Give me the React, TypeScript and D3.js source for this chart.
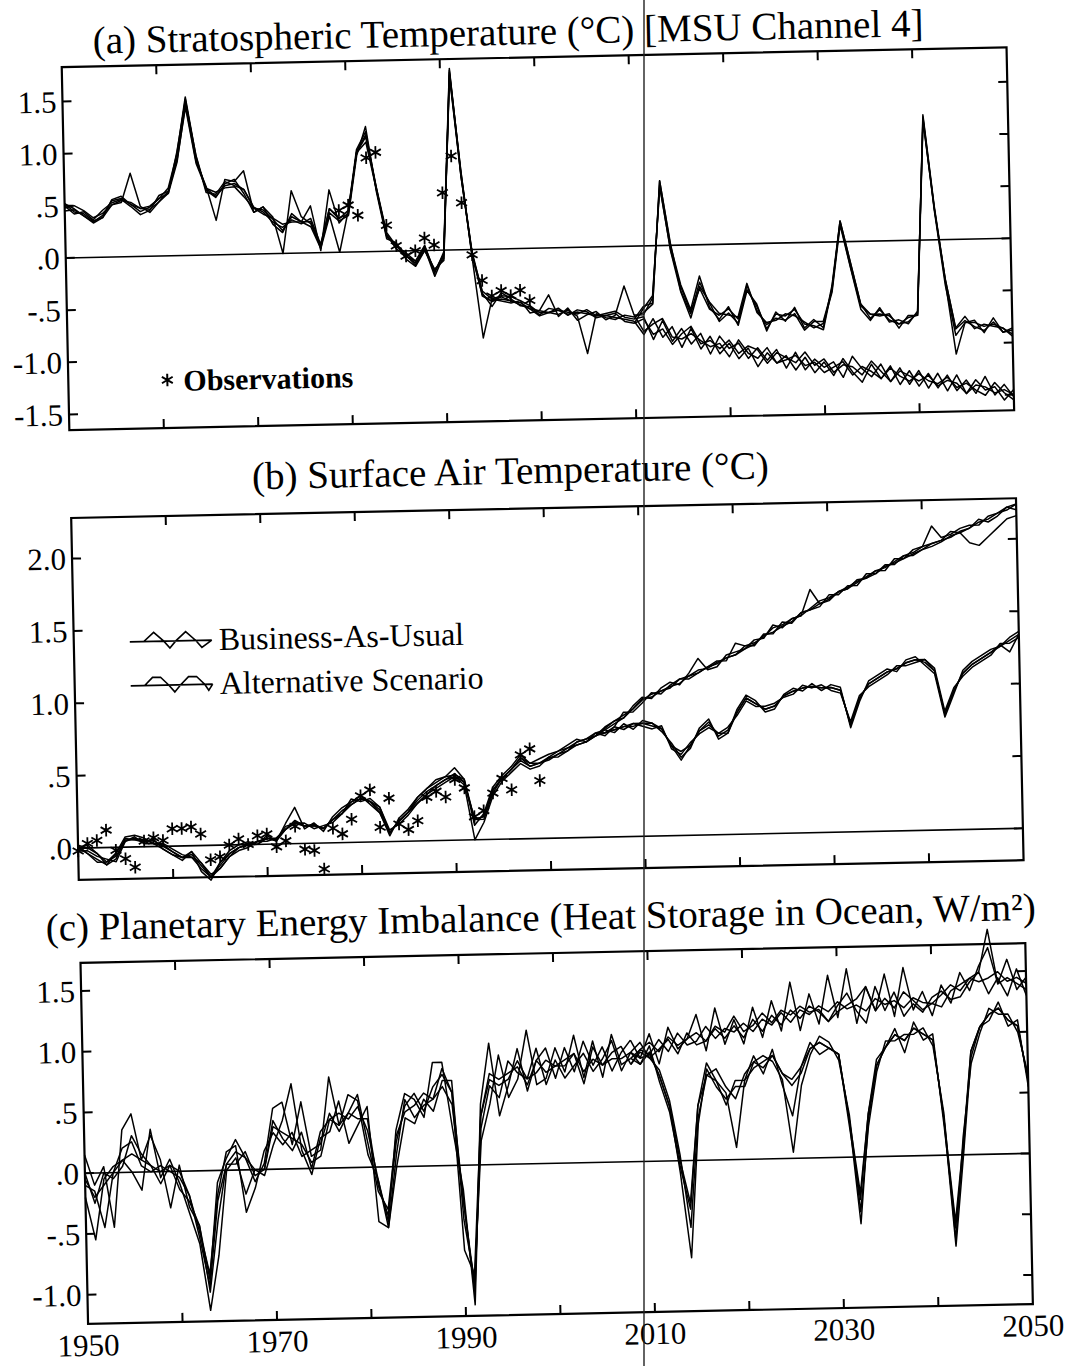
import React from 'react';
import * as d3 from 'd3';

const W = 1067;
const H = 1366;
const FONT = '"Liberation Serif", "Times New Roman", serif';

// ---------- (a) stratospheric temperature, model runs 1950-2010
const stratHistStart = 1950;
const stratHist1 = [0.52,0.47,0.40,0.33,0.38,0.55,0.58,0.50,0.43,0.47,
  0.55,0.65,0.98,1.52,0.95,0.60,0.58,0.70,0.66,0.62,
  0.45,0.40,0.30,0.25,0.32,0.28,0.33,0.08,0.42,0.32,
  0.40,0.98,1.15,0.62,0.18,0.05,-0.02,-0.10,0.05,-0.22,
  -0.02,1.74,0.70,-0.02,-0.42,-0.55,-0.42,-0.48,-0.55,-0.56,
  -0.64,-0.58,-0.60,-0.62,-0.64,-0.60,-0.66,-0.64,-0.62,-0.68,-0.70];
const stratHist2 = [0.48,0.50,0.45,0.38,0.42,0.50,0.52,0.80,0.48,0.42,
  0.52,0.60,0.90,1.45,0.90,0.66,0.33,0.72,0.70,0.80,
  0.40,0.45,0.35,0.00,0.60,0.35,0.28,0.05,0.38,0.30,
  0.35,0.92,1.20,0.58,0.12,0.08,-0.08,-0.15,0.00,-0.18,
  -0.10,1.70,0.75,-0.08,-0.85,-0.48,-0.50,-0.52,-0.50,-0.62,
  -0.60,-0.45,-0.66,-0.58,-0.70,-0.65,-0.62,-0.70,-0.66,-0.38,-0.66];
const stratHist3 = [0.50,0.42,0.44,0.36,0.45,0.52,0.55,0.48,0.40,0.44,
  0.58,0.62,0.92,1.42,0.88,0.64,0.60,0.64,0.65,0.55,
  0.44,0.38,0.34,0.28,0.30,0.30,0.45,0.02,0.60,0.28,
  0.38,0.95,1.05,0.60,0.16,0.02,-0.05,-0.10,0.02,-0.25,
  -0.05,1.66,0.70,-0.05,-0.40,-0.48,-0.45,-0.46,-0.50,-0.55,
  -0.62,-0.62,-0.58,-0.65,-0.60,-0.62,-0.68,-0.66,-0.64,-0.72,-0.74];
const stratHist4 = [0.45,0.46,0.40,0.34,0.40,0.54,0.56,0.50,0.46,0.48,
  0.55,0.60,1.00,1.48,0.96,0.62,0.55,0.68,0.72,0.58,
  0.40,0.45,0.28,0.20,0.38,0.30,0.25,0.04,0.35,0.00,
  0.40,0.95,1.10,0.62,0.15,0.05,-0.05,-0.12,0.00,-0.20,
  -0.08,1.72,0.74,-0.04,-0.45,-0.50,-0.48,-0.50,-0.52,-0.58,
  -0.65,-0.62,-0.64,-0.60,-0.66,-1.02,-0.64,-0.68,-0.70,-0.66,-0.68];
const stratHist5 = [0.52,0.44,0.42,0.35,0.38,0.50,0.54,0.52,0.46,0.45,
  0.52,0.62,0.94,1.50,0.92,0.64,0.56,0.66,0.68,0.62,
  0.44,0.42,0.33,0.22,0.35,0.30,0.30,0.06,0.42,0.33,
  0.36,0.96,1.12,0.60,0.14,0.06,-0.04,-0.14,0.04,-0.20,
  -0.04,1.68,0.72,-0.06,-0.44,-0.50,-0.46,-0.50,-0.54,-0.58,
  -0.60,-0.62,-0.60,-0.64,-0.62,-0.64,-0.66,-0.66,-0.68,-0.70,-0.72];

// (a) runs 2010-2050, with volcanoes (upper) and without (lower)
const stratFutStart = 2010;
const stratVolc1 = [-0.70,-0.58,-0.55,0.62,0.00,-0.38,-0.62,-0.30,-0.60,-0.72,
  -0.60,-0.78,-0.45,-0.58,-0.84,-0.66,-0.75,-0.62,-0.82,-0.74,
  -0.82,-0.42,0.20,-0.20,-0.60,-0.70,-0.72,-0.70,-0.84,-0.72,
  -0.72,1.20,0.32,-0.38,-0.85,-0.74,-0.86,-0.82,-0.84,-0.86,-0.92];
const stratVolc2 = [-0.66,-0.66,-0.50,0.58,-0.05,-0.45,-0.70,-0.40,-0.55,-0.66,
  -0.68,-0.70,-0.38,-0.66,-0.76,-0.74,-0.68,-0.70,-0.76,-0.82,
  -0.78,-0.48,0.16,-0.25,-0.65,-0.76,-0.64,-0.78,-0.76,-0.80,
  -0.68,1.16,0.28,-0.44,-0.92,-0.80,-0.78,-0.90,-0.76,-0.90,-0.86];
const stratVolc3 = [-0.74,-0.60,-0.48,0.56,-0.04,-0.40,-0.64,-0.42,-0.62,-0.68,
  -0.62,-0.72,-0.44,-0.60,-0.82,-0.68,-0.70,-0.64,-0.78,-0.80,
  -0.84,-0.44,0.18,-0.24,-0.62,-0.70,-0.70,-0.72,-0.80,-0.78,
  -0.70,1.18,0.30,-0.40,-1.10,-0.80,-0.80,-0.84,-0.82,-0.86,-0.94];
const stratVolc4 = [-0.68,-0.64,-0.56,0.62,0.02,-0.44,-0.66,-0.36,-0.56,-0.74,
  -0.66,-0.76,-0.40,-0.64,-0.78,-0.72,-0.74,-0.68,-0.84,-0.76,
  -0.76,-0.46,0.20,-0.20,-0.60,-0.74,-0.66,-0.76,-0.80,-0.74,
  -0.72,1.14,0.30,-0.38,-0.86,-0.78,-0.84,-0.88,-0.80,-0.90,-0.88];
const stratCalm1 = [-0.72,-0.85,-0.70,-0.88,-0.78,-0.98,-0.80,-1.00,-0.88,-1.05,
  -0.95,-1.10,-1.00,-1.18,-1.05,-1.15,-1.08,-1.22,-1.10,-1.25,
  -1.15,-1.28,-1.12,-1.25,-1.35,-1.18,-1.32,-1.20,-1.38,-1.25,
  -1.40,-1.28,-1.42,-1.30,-1.45,-1.35,-1.48,-1.32,-1.50,-1.40,-1.52];
const stratCalm2 = [-0.70,-0.68,-0.90,-0.72,-0.92,-0.80,-0.95,-0.85,-1.05,-0.88,
  -1.00,-0.95,-1.10,-1.00,-1.12,-1.02,-1.20,-1.05,-1.22,-1.12,
  -1.20,-1.15,-1.30,-1.10,-1.22,-1.30,-1.18,-1.35,-1.22,-1.38,
  -1.25,-1.42,-1.28,-1.45,-1.30,-1.48,-1.35,-1.45,-1.42,-1.55,-1.45];
const stratCalm3 = [-0.66,-0.82,-0.75,-0.70,-0.88,-0.90,-0.85,-0.92,-0.98,-0.95,
  -1.08,-0.92,-1.05,-1.10,-1.00,-1.15,-1.12,-1.08,-1.18,-1.15,
  -1.25,-1.20,-1.15,-1.28,-1.20,-1.25,-1.32,-1.22,-1.30,-1.35,
  -1.28,-1.35,-1.38,-1.32,-1.42,-1.38,-1.45,-1.50,-1.38,-1.48,-1.55];
const stratCalm4 = [-0.74,-0.70,-0.85,-0.80,-0.95,-0.85,-0.78,-0.95,-0.92,-1.00,
  -0.92,-1.05,-0.98,-1.02,-1.15,-1.05,-1.10,-1.15,-1.05,-1.18,
  -1.12,-1.25,-1.18,-1.20,-1.28,-1.15,-1.25,-1.35,-1.25,-1.30,
  -1.35,-1.30,-1.40,-1.35,-1.38,-1.48,-1.40,-1.42,-1.48,-1.45,-1.50];

const stratObsYears = [1979,1980,1981,1982,1983,1984,1985,1986,1987,1988,1989,
  1990,1991,1992,1993,1994,1995,1996,1997,1998,1999];
const stratObs = [0.40,0.45,0.35,0.90,0.95,0.25,0.05,-0.05,0.00,0.12,0.05,
  0.55,0.90,0.45,-0.05,-0.30,-0.45,-0.40,-0.45,-0.40,-0.50];

// ---------- (b) surface air temperature
const surfHistStart = 1950;
const surfHist1 = [0.00,0.02,-0.04,-0.12,-0.08,0.06,0.05,0.03,0.05,-0.02,
  -0.06,-0.10,-0.04,-0.18,-0.24,-0.12,-0.04,0.00,0.02,0.00,
  0.06,0.02,0.14,0.25,0.10,0.14,0.08,0.18,0.24,0.28,
  0.32,0.26,0.20,0.04,0.16,0.22,0.30,0.36,0.42,0.44,
  0.50,0.42,0.10,0.18,0.36,0.44,0.50,0.58,0.52,0.55,
  0.58,0.60,0.64,0.68,0.66,0.72];
const surfHist2 = [0.02,-0.04,-0.08,-0.12,-0.04,0.07,0.08,0.06,0.02,0.02,
  -0.02,-0.06,-0.08,-0.12,-0.20,-0.16,-0.08,-0.04,-0.02,0.02,
  0.02,0.04,0.10,0.14,0.14,0.10,0.12,0.14,0.20,0.30,
  0.28,0.30,0.24,0.08,0.12,0.18,0.26,0.32,0.36,0.40,
  0.44,0.38,0.00,0.12,0.30,0.40,0.46,0.52,0.48,0.50,
  0.56,0.56,0.60,0.66,0.68,0.70];
const surfHist3 = [-0.02,-0.02,-0.06,-0.08,-0.10,0.04,0.06,0.04,0.04,0.00,
  -0.04,-0.08,-0.06,-0.14,-0.22,-0.14,-0.06,-0.02,0.00,0.02,
  0.04,0.03,0.12,0.14,0.12,0.13,0.10,0.16,0.22,0.26,
  0.30,0.28,0.22,0.06,0.14,0.20,0.28,0.34,0.38,0.42,
  0.46,0.40,0.14,0.16,0.34,0.42,0.48,0.56,0.50,0.52,
  0.54,0.58,0.62,0.64,0.66,0.70];
const surfHist4 = [0.00,-0.04,-0.10,-0.10,-0.06,0.04,0.07,0.02,0.02,0.01,
  -0.04,-0.08,-0.08,-0.16,-0.22,-0.16,-0.08,-0.02,0.00,0.00,
  0.04,0.04,0.10,0.15,0.12,0.12,0.10,0.16,0.20,0.26,
  0.30,0.28,0.24,0.06,0.14,0.20,0.26,0.32,0.38,0.42,
  0.44,0.40,0.14,0.14,0.32,0.42,0.48,0.54,0.50,0.52,
  0.55,0.58,0.60,0.64,0.66,0.70];
const surfHist5 = [0.02,0.00,-0.04,-0.10,-0.04,0.05,0.05,0.05,0.02,-0.02,
  -0.06,-0.08,-0.04,-0.12,-0.22,-0.12,-0.06,-0.02,0.00,0.02,
  0.04,0.02,0.10,0.16,0.12,0.12,0.10,0.16,0.20,0.28,
  0.30,0.28,0.20,0.06,0.14,0.20,0.30,0.36,0.40,0.44,
  0.45,0.42,0.14,0.16,0.34,0.42,0.48,0.56,0.52,0.52,
  0.56,0.60,0.62,0.66,0.68,0.72];

const surfFutStart = 2005;
const surfBau1 = [0.70,0.76,0.80,0.82,0.90,0.96,0.95,1.02,1.06,1.04,
  1.12,1.22,1.14,1.16,1.24,1.26,1.28,1.34,1.35,1.44,
  1.42,1.48,1.50,1.68,1.58,1.60,1.66,1.68,1.74,1.75,
  1.80,1.80,1.88,1.88,1.94,1.96,2.10,2.02,2.04,2.08,
  2.10,2.10,2.16,2.18,2.22,2.24];
const surfBau2 = [0.72,0.72,0.76,0.86,0.86,0.92,0.99,0.98,1.04,1.08,
  1.08,1.12,1.16,1.20,1.20,1.32,1.30,1.30,1.38,1.38,
  1.46,1.45,1.52,1.54,1.56,1.64,1.64,1.70,1.70,1.78,
  1.78,1.84,1.84,1.90,1.90,1.94,1.98,2.00,2.06,2.05,
  2.08,2.14,2.12,2.16,2.22,2.20];
const surfBau3 = [0.70,0.75,0.80,0.84,0.88,0.94,0.98,1.00,1.02,1.08,
  1.10,1.12,1.16,1.18,1.22,1.24,1.30,1.32,1.36,1.42,
  1.44,1.48,1.50,1.55,1.60,1.62,1.66,1.68,1.72,1.76,
  1.80,1.82,1.86,1.90,1.92,1.96,1.98,2.00,2.02,2.06,
  2.08,2.12,2.14,2.18,2.20,2.24];
const surfBau4 = [0.72,0.74,0.78,0.82,0.88,0.95,0.96,1.00,1.03,1.05,
  1.10,1.14,1.15,1.19,1.22,1.24,1.28,1.31,1.37,1.39,
  1.43,1.46,1.52,1.54,1.58,1.61,1.66,1.69,1.73,1.75,
  1.78,1.83,1.85,1.88,1.91,1.94,1.96,1.99,2.03,2.05,
  1.98,1.96,2.02,2.08,2.14,2.16];
const surfAlt1 = [0.70,0.74,0.72,0.78,0.74,0.80,0.78,0.72,0.64,0.54,
  0.60,0.74,0.80,0.66,0.70,0.86,0.96,0.92,0.84,0.86,
  0.96,1.00,0.98,1.03,0.98,1.02,1.00,0.72,0.90,1.04,
  1.08,1.12,1.10,1.18,1.20,1.14,1.08,0.78,0.94,1.10,
  1.16,1.20,1.24,1.26,1.32,1.36];
const surfAlt2 = [0.72,0.70,0.76,0.74,0.78,0.76,0.74,0.76,0.60,0.56,
  0.64,0.70,0.74,0.70,0.74,0.82,0.92,0.88,0.88,0.90,
  0.94,0.96,1.02,1.00,1.02,0.98,0.96,0.76,0.94,1.00,
  1.04,1.08,1.14,1.14,1.16,1.18,1.12,0.82,0.98,1.06,
  1.12,1.16,1.20,1.28,1.28,1.32];
const surfAlt3 = [0.70,0.72,0.74,0.76,0.78,0.78,0.76,0.74,0.62,0.52,
  0.62,0.72,0.78,0.68,0.72,0.84,0.94,0.90,0.86,0.88,
  0.95,0.98,1.00,1.01,1.00,1.00,0.98,0.74,0.92,1.02,
  1.06,1.10,1.12,1.16,1.18,1.18,1.10,0.80,0.96,1.08,
  1.14,1.18,1.22,1.26,1.30,1.34];
const surfAlt4 = [0.72,0.72,0.74,0.76,0.76,0.78,0.78,0.74,0.62,0.58,
  0.62,0.72,0.76,0.70,0.70,0.84,0.94,0.90,0.86,0.88,
  0.95,0.98,1.00,1.01,1.00,1.00,0.98,0.74,0.92,1.02,
  1.06,1.10,1.12,1.16,1.18,1.16,1.10,0.80,0.96,1.08,
  1.14,1.18,1.22,1.27,1.22,1.34];

const surfObsStart = 1950;
const surfObs = [-0.02,0.03,0.05,0.12,-0.02,-0.08,-0.14,0.04,0.06,0.04,
  0.12,0.12,0.13,0.08,-0.10,-0.08,0.00,0.04,0.00,0.06,
  0.07,-0.02,0.02,0.12,-0.04,-0.05,-0.18,0.10,0.06,0.16,
  0.32,0.36,0.10,0.30,0.12,0.08,0.14,0.30,0.34,0.30,
  0.42,0.36,0.16,0.20,0.32,0.42,0.34,0.58,0.62,0.40];

// ---------- (c) planetary energy imbalance
const heatHistStart = 1950;
const heatHist1 = [0.15,-0.10,0.05,-0.45,0.35,0.48,0.10,0.30,0.10,-0.30,
  0.05,-0.30,-0.45,-0.90,-0.10,0.10,0.25,0.10,-0.10,0.05,
  0.50,0.55,0.20,0.55,0.10,0.15,0.75,0.35,0.60,0.55,
  0.10,-0.10,-0.45,0.30,0.60,0.55,0.40,0.85,0.85,0.30,
  -0.20,-1.15,0.50,1.00,0.40,0.65,0.95,0.60,0.85,0.95,
  0.70,0.95,0.75,1.00,0.80,0.95,0.75,0.90,1.00];
const heatHist2 = [-0.20,-0.55,-0.05,0.05,0.10,0.00,-0.15,0.35,-0.05,0.10,
  -0.10,-0.35,-0.60,-1.15,-0.70,0.00,0.10,-0.20,0.00,-0.05,
  0.20,0.40,0.70,0.15,-0.05,0.25,0.30,0.55,0.20,0.35,
  0.50,-0.45,-0.50,0.00,0.40,0.35,0.55,0.45,0.70,0.70,
  -0.45,-0.95,0.20,0.50,0.90,0.55,0.70,1.10,0.65,0.70,
  0.95,0.75,1.05,0.70,1.00,0.70,1.05,0.80,0.85];
const heatHist3 = [-0.10,-0.15,-0.45,0.00,0.20,0.25,0.05,0.00,0.05,0.00,
  -0.05,-0.20,-0.50,-0.85,-0.20,0.15,0.20,-0.35,-0.15,0.15,
  0.30,0.20,0.30,0.10,0.15,0.20,0.45,0.30,0.45,0.60,
  0.20,-0.20,-0.35,0.25,0.45,0.50,0.60,0.55,0.65,0.50,
  -0.30,-1.00,0.30,0.65,0.55,0.85,0.75,0.70,0.95,0.65,
  0.85,0.70,0.80,0.90,0.75,0.85,1.00,0.75,0.90];
const heatHist4 = [0.00,-0.25,0.00,-0.05,0.05,0.30,0.15,0.05,-0.10,0.05,
  -0.15,-0.25,-0.45,-1.00,-0.40,0.05,0.05,0.15,-0.05,0.00,
  0.40,0.25,0.15,0.30,0.00,0.30,0.40,0.35,0.45,0.40,
  0.40,-0.15,-0.40,0.20,0.50,0.60,0.45,0.65,0.75,0.60,
  -0.70,-0.90,0.40,0.70,0.65,0.70,0.85,0.70,0.75,0.85,
  0.80,0.85,0.90,0.65,0.95,0.80,0.90,0.95,0.80];
const heatHist5 = [-0.05,-0.20,-0.10,0.00,0.10,0.15,0.10,0.05,0.00,0.05,
  0.00,-0.20,-0.55,-0.95,-0.25,0.05,0.15,0.10,0.00,0.00,
  0.35,0.30,0.25,0.20,0.05,0.10,0.40,0.45,0.40,0.50,
  0.30,-0.10,-0.50,0.10,0.55,0.40,0.50,0.55,0.80,0.60,
  -0.30,-1.05,0.40,0.75,0.70,0.75,0.80,0.65,0.85,0.75,
  0.80,0.80,0.90,0.75,0.85,0.80,0.85,0.85,0.90];

const heatFutStart = 2008;
const heatBau1 = [1.00,0.85,1.05,0.80,1.10,0.92,1.00,1.20,0.90,1.25,0.95,1.15,
  0.95,1.25,1.00,1.30,1.05,1.45,1.05,1.35,1.10,1.50,
  1.15,1.55,1.10,1.40,1.20,1.50,1.15,1.55,1.20,1.35,
  1.15,1.40,1.25,1.50,1.35,1.55,1.70,1.40,1.60,1.35,1.45];
const heatBau2 = [0.85,0.92,0.88,1.00,0.90,1.05,0.95,0.98,1.10,1.00,1.08,1.05,
  1.12,1.05,1.15,1.10,1.20,1.12,1.22,1.18,1.25,1.20,
  1.28,1.22,1.25,1.20,1.30,1.25,1.28,1.22,1.30,1.26,
  1.25,1.22,1.35,1.40,1.45,1.42,1.45,1.50,1.42,1.45,1.40];
const heatBau3 = [0.90,0.98,0.85,0.92,1.00,0.88,1.05,0.95,0.98,1.08,1.00,1.10,
  1.00,1.15,1.05,1.18,1.10,1.22,1.15,1.25,1.20,1.12,
  1.25,1.35,1.20,1.10,1.40,1.20,1.35,1.15,1.25,1.18,
  1.30,1.35,1.28,1.30,1.42,1.50,1.32,1.45,1.30,1.52,1.30];
const heatBau4 = [0.80,0.92,0.98,0.90,1.02,0.95,1.00,1.05,0.98,1.10,1.05,1.18,
  1.05,1.10,1.20,1.12,1.22,1.18,1.25,1.20,1.22,1.12,
  1.20,1.25,1.30,1.40,1.20,1.30,1.22,1.35,1.28,1.20,
  1.25,1.32,1.40,1.35,1.45,1.50,1.85,1.40,1.45,1.40,1.35];
const heatVolc1 = [0.90,0.80,0.95,0.65,0.40,-0.05,-0.40,0.45,0.80,0.65,0.55,0.10,
  0.65,0.85,0.70,0.90,0.60,0.35,0.75,0.95,0.85,0.90,
  0.85,0.25,-0.35,0.35,0.80,0.90,1.05,0.85,1.10,0.95,
  1.00,0.25,-0.60,0.05,0.85,1.05,1.10,1.25,1.05,1.10,0.55];
const heatVolc2 = [0.80,0.90,0.85,0.75,0.50,0.05,-0.55,0.35,0.70,0.75,0.60,0.50,
  0.70,0.80,0.85,0.80,0.65,0.05,0.60,0.85,1.00,0.95,
  0.80,0.35,-0.45,0.25,0.70,0.95,0.95,1.00,1.00,1.05,
  0.90,0.35,-0.70,0.15,0.75,1.00,1.20,1.15,1.15,1.00,0.65];
const heatVolc3 = [0.90,0.85,0.88,0.70,0.45,-0.10,-0.80,0.30,0.75,0.60,0.50,0.60,
  0.60,0.80,0.75,0.85,0.70,0.60,0.70,0.90,0.95,0.90,
  0.85,0.30,-0.55,0.30,0.75,0.90,1.00,0.95,1.05,1.00,
  0.95,0.30,-0.75,0.00,0.80,1.05,1.15,1.20,1.10,1.05,0.60];
const heatVolc4 = [0.85,0.80,0.90,0.70,0.45,0.00,-0.35,0.45,0.70,0.65,0.45,0.65,
  0.65,0.75,0.80,0.85,0.70,0.65,0.75,0.90,0.95,0.90,
  0.85,0.30,-0.30,0.35,0.75,0.90,1.00,0.95,1.05,1.00,
  0.95,0.30,-0.55,0.10,0.85,1.05,1.15,1.20,1.10,1.05,0.60];

// ---------- axes
const decadeTicks = [1960, 1970, 1980, 1990, 2000, 2010, 2020, 2030, 2040];
const yearLabels = [1950, 1970, 1990, 2010, 2030, 2050];
const stratTicks = [1.5, 1.0, 0.5, 0, -0.5, -1.0, -1.5];
const stratTickLabels = ['1.5', '1.0', '.5', '.0', '-.5', '-1.0', '-1.5'];
const surfTicks = [2.0, 1.5, 1.0, 0.5, 0];
const surfTickLabels = ['2.0', '1.5', '1.0', '.5', '.0'];
const heatTicks = [1.5, 1.0, 0.5, 0, -0.5, -1.0];
const heatTickLabels = ['1.5', '1.0', '.5', '.0', '-.5', '-1.0'];

const x = d3.scaleLinear().domain([1950, 2050]).range([75, 1020]);

const run = (start, values) => ({ start, values });

const panels = [
  {
    id: 'a', title: '(a)  Stratospheric Temperature (°C) [MSU Channel 4]',
    titleX: 522, titleY: 54, top: 67, bottom: 430, domain: [-1.65, 1.83],
    ticks: stratTicks, tickLabels: stratTickLabels,
    runs: [
      run(stratHistStart, stratHist1), run(stratHistStart, stratHist2), run(stratHistStart, stratHist3),
      run(stratHistStart, stratHist4), run(stratHistStart, stratHist5),
      run(stratFutStart, stratVolc1), run(stratFutStart, stratVolc2), run(stratFutStart, stratVolc3),
      run(stratFutStart, stratVolc4),
      run(stratFutStart, stratCalm1), run(stratFutStart, stratCalm2), run(stratFutStart, stratCalm3),
      run(stratFutStart, stratCalm4),
    ],
    obs: stratObsYears.map((yr, i) => [yr, stratObs[i]]),
  },
  {
    id: 'b', title: '(b)  Surface Air Temperature (°C)',
    titleX: 515, titleY: 493, top: 518, bottom: 880, domain: [-0.22, 2.28],
    ticks: surfTicks, tickLabels: surfTickLabels,
    runs: [
      run(surfHistStart, surfHist1), run(surfHistStart, surfHist2), run(surfHistStart, surfHist3),
      run(surfHistStart, surfHist4), run(surfHistStart, surfHist5),
      run(surfFutStart, surfBau1), run(surfFutStart, surfBau2), run(surfFutStart, surfBau3),
      run(surfFutStart, surfBau4),
      run(surfFutStart, surfAlt1), run(surfFutStart, surfAlt2), run(surfFutStart, surfAlt3),
      run(surfFutStart, surfAlt4),
    ],
    obs: surfObs.map((v, i) => [surfObsStart + i, v]),
  },
  {
    id: 'c', title: '(c)  Planetary Energy Imbalance (Heat Storage in Ocean,  W/m²)',
    titleX: 536, titleY: 940, top: 963, bottom: 1324, domain: [-1.24, 1.73],
    ticks: heatTicks, tickLabels: heatTickLabels,
    runs: [
      run(heatHistStart, heatHist1), run(heatHistStart, heatHist2), run(heatHistStart, heatHist3),
      run(heatHistStart, heatHist4), run(heatHistStart, heatHist5),
      run(heatFutStart, heatBau1), run(heatFutStart, heatBau2), run(heatFutStart, heatBau3),
      run(heatFutStart, heatBau4),
      run(heatFutStart, heatVolc1), run(heatFutStart, heatVolc2), run(heatFutStart, heatVolc3),
      run(heatFutStart, heatVolc4),
    ],
    obs: null,
  },
];

const starPath = d3.symbol(d3.symbolAsterisk, 110)();

const Panel = ({ p }) => {
  const y = d3.scaleLinear().domain(p.domain).range([p.bottom, p.top]);
  const left = x(1950);
  const right = x(2050);
  return (
    <g>
      <text x={p.titleX} y={p.titleY} textAnchor="middle" fontSize={39}>{p.title}</text>
      <line x1={left} x2={right} y1={y(0)} y2={y(0)} stroke="#000" strokeWidth={1.6} />
      {p.runs.map((r, i) => {
        const line = d3.line().x((_, j) => x(r.start + j)).y(d => y(d));
        return <path key={i} d={line(r.values)} fill="none" stroke="#000" strokeWidth={1.5} strokeLinejoin="round" />;
      })}
      {p.obs && p.obs.map(([yr, v]) => (
        <path key={yr} d={starPath} transform={`translate(${x(yr)},${y(v)})`} fill="none" stroke="#000" strokeWidth={1.8} />
      ))}
      <rect x={left} y={p.top} width={right - left} height={p.bottom - p.top} fill="none" stroke="#000" strokeWidth={2.2} />
      {decadeTicks.map(t => (
        <g key={t} stroke="#000" strokeWidth={2}>
          <line x1={x(t)} x2={x(t)} y1={p.bottom} y2={p.bottom - 9} />
          <line x1={x(t)} x2={x(t)} y1={p.top} y2={p.top + 9} />
        </g>
      ))}
      {p.ticks.map((t, i) => (
        <g key={t}>
          <line x1={left} x2={left + 9} y1={y(t)} y2={y(t)} stroke="#000" strokeWidth={2} />
          <line x1={right} x2={right - 9} y1={y(t)} y2={y(t)} stroke="#000" strokeWidth={2} />
          <text x={left - 6} y={y(t)} dy="0.35em" textAnchor="end" fontSize={31}>{p.tickLabels[i]}</text>
        </g>
      ))}
    </g>
  );
};

const bauSymbol = 'M0,0 H82 M0,0 L14,0 L24,-9 L34,0 L40,7 L46,0 L56,-9 L66,0 L72,7 L82,0';
const altSymbol = 'M0,0 H82 M0,0 L14,0 L22,-8 L30,-8 L38,0 L44,7 L50,0 L58,-8 L66,-8 L74,0 L78,6 L82,0';

export default function App() {
  return (
    <svg width={W} height={H} style={{ position: 'absolute', left: 0, top: 0 }} fontFamily={FONT}>
      <rect width={W} height={H} fill="#fff" />
      <g transform="rotate(-1.2 75 700)">
        {panels.map(p => <Panel key={p.id} p={p} />)}
        {yearLabels.map(yr => (
          <text key={yr} x={x(yr)} y={1356} textAnchor="middle" fontSize={31}>{yr}</text>
        ))}
        <path d={starPath} transform="translate(174,382)" fill="none" stroke="#000" strokeWidth={2} />
        <text x={190} y={393} fontSize={30} fontWeight="bold">Observations</text>
        <g fill="none" stroke="#000" strokeWidth={1.6}>
          <path d={bauSymbol} transform="translate(131,643)" />
          <path d={altSymbol} transform="translate(131,687)" />
        </g>
        <text x={220} y={653} fontSize={32}>Business-As-Usual</text>
        <text x={220} y={697} fontSize={32}>Alternative Scenario</text>
      </g>
      <line x1={644} x2={644} y1={0} y2={H} stroke="#222" strokeWidth={1.4} />
    </svg>
  );
}
